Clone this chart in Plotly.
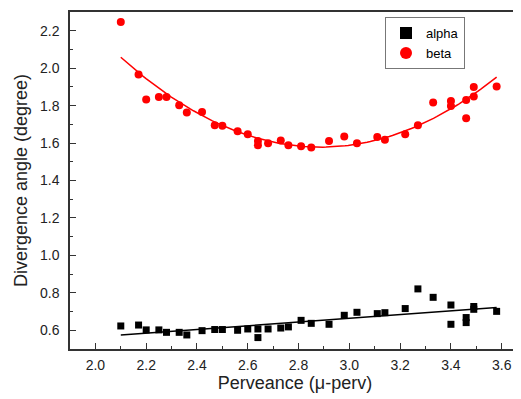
import numpy as np
import plotly.graph_objects as go

# Perveance values (μ-perv)
perveance = [2.10, 2.17, 2.20, 2.25, 2.28, 2.33, 2.36, 2.42, 2.47, 2.50,
             2.56, 2.60, 2.64, 2.64, 2.68, 2.73, 2.76, 2.81, 2.85, 2.92,
             2.98, 3.03, 3.11, 3.14, 3.22, 3.27, 3.33, 3.40, 3.40, 3.46,
             3.46, 3.49, 3.49, 3.58]

alpha = [0.623, 0.628, 0.602, 0.602, 0.589, 0.589, 0.575, 0.598, 0.604, 0.604,
         0.600, 0.607, 0.607, 0.561, 0.607, 0.612, 0.618, 0.653, 0.637, 0.632,
         0.680, 0.696, 0.689, 0.694, 0.716, 0.821, 0.776, 0.735, 0.632, 0.668,
         0.641, 0.727, 0.712, 0.701]

beta = [2.247, 1.966, 1.832, 1.846, 1.846, 1.802, 1.763, 1.766, 1.695, 1.693,
        1.663, 1.647, 1.611, 1.588, 1.599, 1.613, 1.588, 1.583, 1.576, 1.611,
        1.635, 1.599, 1.633, 1.617, 1.647, 1.695, 1.816, 1.825, 1.798, 1.830,
        1.733, 1.900, 1.848, 1.902]

x_ticks = [2.0, 2.2, 2.4, 2.6, 2.8, 3.0, 3.2, 3.4, 3.6]
y_ticks = [0.6, 0.8, 1.0, 1.2, 1.4, 1.6, 1.8, 2.0, 2.2]

# fits (linear for alpha, quadratic for beta) computed from the data
xp = np.array(perveance)
xf = np.linspace(xp.min(), xp.max(), 120)
alpha_fit = np.polyval(np.polyfit(xp, alpha, 1), xf)
beta_fit = np.polyval(np.polyfit(xp, beta, 2), xf)

fig = go.Figure()
fig.add_trace(go.Scatter(x=xf, y=beta_fit, mode="lines",
                         line=dict(color="#ff0000", width=1.5),
                         showlegend=False, hoverinfo="skip"))
fig.add_trace(go.Scatter(x=xf, y=alpha_fit, mode="lines",
                         line=dict(color="#000000", width=1.5),
                         showlegend=False, hoverinfo="skip"))
fig.add_trace(go.Scatter(x=perveance, y=alpha, mode="markers", name="alpha",
                         marker=dict(symbol="square", size=7, color="#000000")))
fig.add_trace(go.Scatter(x=perveance, y=beta, mode="markers", name="beta",
                         marker=dict(symbol="circle", size=8, color="#ff0000")))

axis_common = dict(
    showgrid=False, zeroline=False, automargin=False,
    showline=True, linecolor="#333333", linewidth=1.5, mirror=True,
    ticks="inside", ticklen=6, tickwidth=1, tickcolor="#333333",
    tickfont=dict(family="Liberation Sans, Arial", size=14, color="#222222"),
)

# page body has an 8px margin, so the figure is sized to fit the 521x399 window
fig.update_layout(
    width=513, height=391,
    margin=dict(l=62, r=1, t=4, b=50),
    paper_bgcolor="white", plot_bgcolor="white",
    font=dict(family="Liberation Sans, Arial", color="#222222"),
    xaxis=dict(range=[1.9, 3.672], tickvals=x_ticks,
               ticktext=[f"{v:.1f}" for v in x_ticks],
               ticklabelstandoff=2,
               minor=dict(ticks="inside", ticklen=3, dtick=0.1, tick0=1.9,
                          tickcolor="#333333"),
               title=dict(text="Perveance (μ-perv)", font=dict(size=18), standoff=1),
               **axis_common),
    yaxis=dict(range=[0.5, 2.3], tickvals=y_ticks,
               ticktext=[f"{v:.1f}" for v in y_ticks],
               ticklabelstandoff=6,
               minor=dict(ticks="inside", ticklen=3, dtick=0.1, tick0=0.5,
                          tickcolor="#333333"),
               title=dict(text="Divergence angle (degree)", font=dict(size=18), standoff=8),
               **axis_common),
    legend=dict(x=0.70, y=0.985, xanchor="left", yanchor="top",
                bgcolor="white", bordercolor="#777777", borderwidth=1,
                font=dict(size=13, color="#000000"),
                tracegroupgap=0, itemsizing="constant", itemwidth=30),
)

fig.write_html("out.html")
